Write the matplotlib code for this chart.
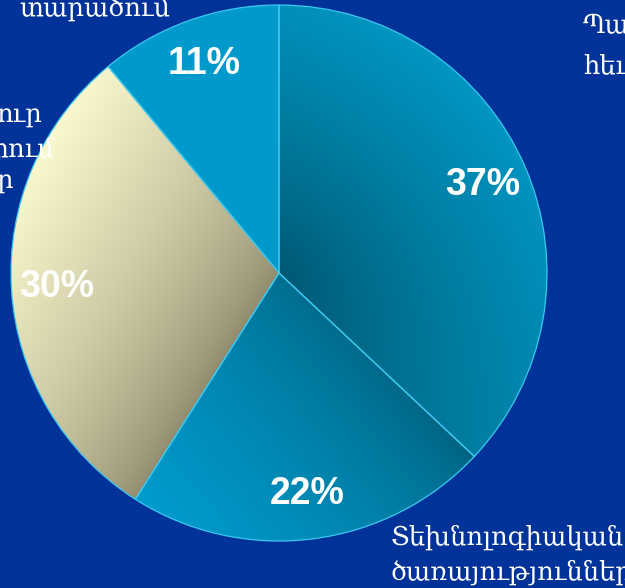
import numpy as np
import matplotlib
matplotlib.use("Agg")
import matplotlib.pyplot as plt
from matplotlib.colors import to_rgb

# data
shares = [37, 22, 30, 11]
# gradient ends (dark, light) per slice
grad_dark = ['#005670', '#005d79', '#8e896b', '#0099cc']
grad_light = ['#0096c2', '#009bcd', '#faf8cd', '#0099cc']
grad_angle = [47, 220, 148, 0]      # direction in which colour goes dark -> light
grad_gamma = [0.8, 0.6, 0.7, 1.0]

bg = '#003399'
W, H = 625, 588
cx, cy, R = 279, 315, 268

fig = plt.figure(figsize=(W / 100, H / 100), dpi=100, facecolor=bg)
ax = fig.add_axes([0, 0, 1, 1])
ax.set_facecolor(bg)

wedges, texts, autotexts = ax.pie(
    shares, startangle=90, counterclock=False, center=(cx, cy), radius=R,
    autopct='%1.0f%%', pctdistance=0.83,
    wedgeprops=dict(edgecolor='#3cc8f0', linewidth=0.9),
    textprops=dict(color='white', fontsize=27, fontweight='bold',
                   family='Liberation Sans'))

# gradient fills clipped to each wedge
xx, yy = np.meshgrid(np.arange(W) + 0.5, np.arange(H) + 0.5)
rr = np.hypot(xx - cx, yy - cy) / R
for i, (w, d, l, a, g) in enumerate(zip(wedges, grad_dark, grad_light,
                                        grad_angle, grad_gamma)):
    ux, uy = np.cos(np.radians(a)), np.sin(np.radians(a))
    proj = (xx - cx) * ux + (yy - cy) * uy
    if i == 0:
        # darkest at the centre, lighter toward the rim and upper right
        t = 0.55 * rr + 0.45 * proj / R
    elif i == 1:
        # light at lower-left rim, dark toward the centre side
        t = (proj + 35) / (252 + 35)
    else:
        t = proj / R
    t = np.clip(t, 0, 1) ** g
    c0, c1 = np.array(to_rgb(d)), np.array(to_rgb(l))
    img = c0 + (c1 - c0) * t[..., None]
    im = ax.imshow(img, extent=(0, W, 0, H), origin='lower', zorder=1,
                   interpolation='bilinear')
    im.set_clip_path(w)
    w.set_facecolor('none')
    w.set_zorder(2)

for t in autotexts:
    t.set_zorder(3)

# category labels (cut by the frame in the original)
lab = dict(color='white', fontsize=18.5, family=['DejaVu Serif', 'DejaVu Sans'],
           zorder=3)
ax.text(95, H - 16, 'տարածում', ha='center', va='baseline', **lab)
ax.text(583, H - 33, 'Պաշտ', ha='left', va='baseline', **lab)
ax.text(583, H - 73, 'հեւ', ha='left', va='baseline', **lab)
ax.text(43, H - 123, 'ուր', ha='right', va='baseline', **lab)
ax.text(54, H - 156, 'տում', ha='right', va='baseline', **lab)
ax.text(13, H - 189, 'ր', ha='right', va='baseline', **lab)
ax.text(391, H - 545, 'Տեխնոլոգիական', ha='left', va='baseline', **lab)
ax.text(391, H - 580, 'ծառայություններ', ha='left', va='baseline', **lab)

ax.set_xlim(0, W)
ax.set_ylim(0, H)
ax.set_aspect('equal')
ax.axis('off')
fig.savefig('out.png', dpi=100, facecolor=bg)
